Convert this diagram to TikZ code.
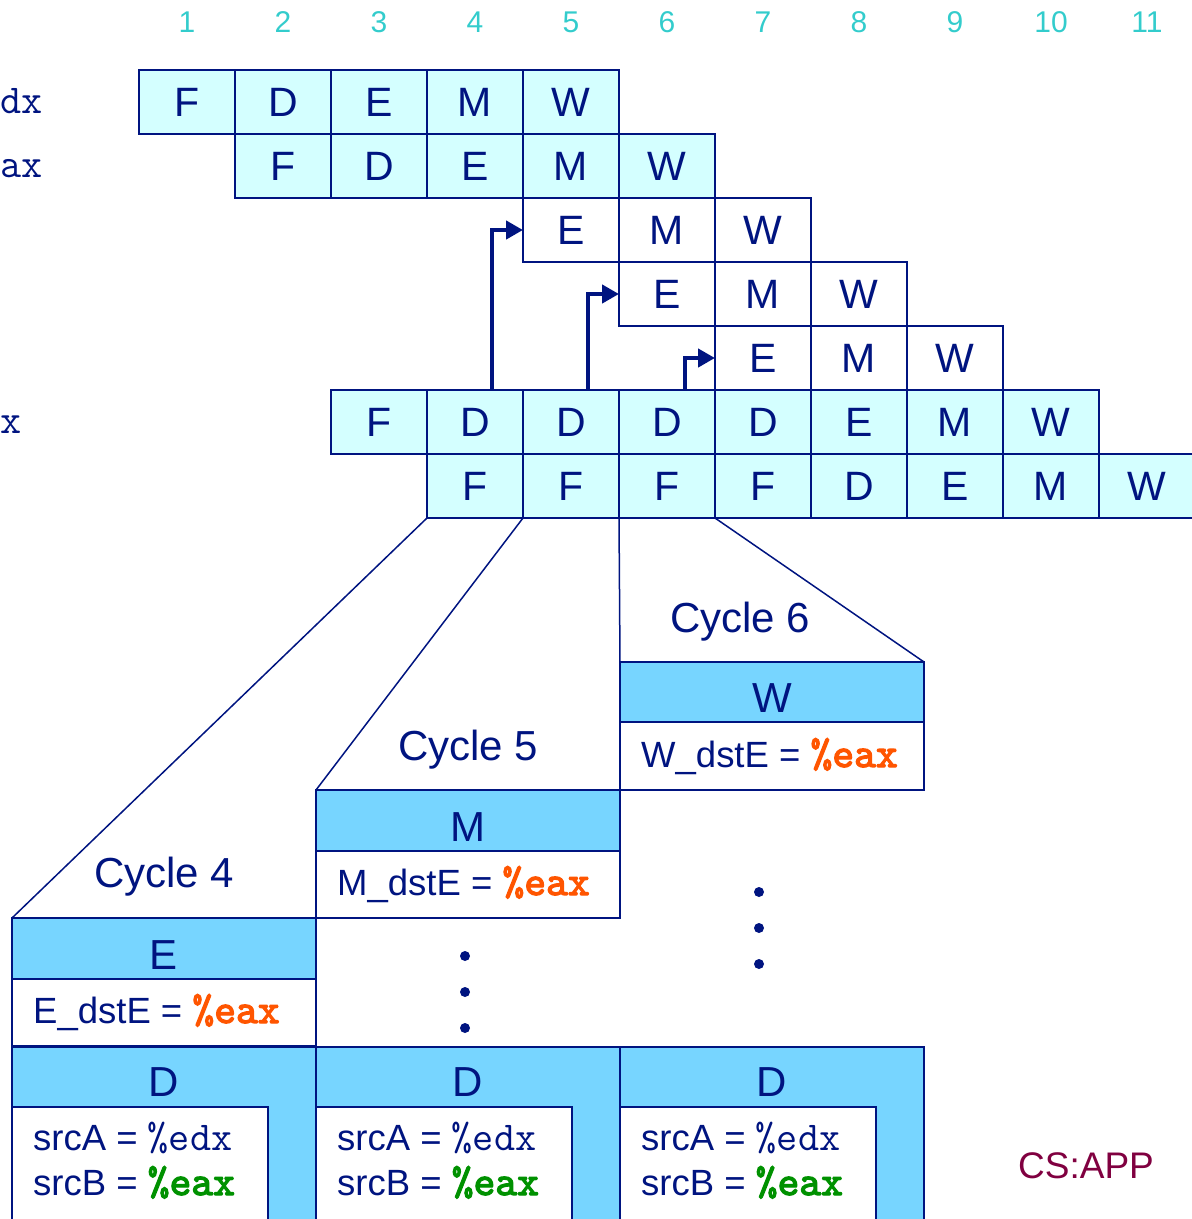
\documentclass[tikz,border=0pt]{standalone}
\usepackage{fontspec}
\setmainfont{Liberation Sans}
\newcommand\monof{\ttfamily}
\newfontfamily\monobold[FakeBold=3]{lmmono10-regular.otf}
\usetikzlibrary{arrows.meta}
\definecolor{navy}{RGB}{0,20,128}
\definecolor{cellfill}{RGB}{212,255,255}
\definecolor{hdr}{RGB}{119,213,255}
\definecolor{orng}{RGB}{255,85,0}
\definecolor{grn}{RGB}{0,145,0}
\definecolor{turq}{RGB}{51,204,204}
\definecolor{maroon}{RGB}{128,0,64}
\newcommand\regtt[1]{{\monof\fontsize{41}{41}\selectfont\color{navy}#1}}
\newcommand\boldtt[2]{{\monobold\fontsize{41.5}{41.5}\selectfont\color{#1}#2}}
\begin{document}
\begin{tikzpicture}[x=1pt,y=-1pt,
  cellbase/.style={draw=navy, line width=2.8pt, minimum width=96pt, minimum height=64pt,
    inner sep=0pt, outer sep=0pt, text=navy, font=\fontsize{41}{41}\selectfont},
  cellc/.style={cellbase, fill=cellfill},
  cellw/.style={cellbase, fill=white},
  colnum/.style={text=turq, inner sep=0pt, font=\fontsize{30}{30}\selectfont},
  rowlab/.style={text=navy, inner sep=0pt, anchor=base west, font=\monof\fontsize{41}{41}\selectfont},
  fwd/.style={draw=navy, line width=4.5pt, -{Triangle[length=17pt,width=18pt]}},
  fan/.style={draw=navy, line width=1.5pt},
  hdrbox/.style={draw=navy, line width=1.2pt, fill=hdr, minimum width=304pt, inner sep=0pt, outer sep=0pt},
  whbox/.style={draw=navy, line width=2.4pt, fill=white, inner sep=0pt, outer sep=0pt},
  hdrtxt/.style={text=navy, inner sep=0pt, anchor=base, font=\fontsize{42}{42}\selectfont},
  boxtxt/.style={text=navy, inner sep=0pt, anchor=base west, font=\fontsize{36.5}{36.5}\selectfont},
  cyc/.style={text=navy, inner sep=0pt, anchor=base west, font=\fontsize{42}{42}\selectfont},
  dot/.style={fill=navy}
]
\useasboundingbox (0,0) rectangle (1192,1219);

% column numbers
\foreach \i in {1,...,11} \node[colnum] (n\i) at ({91+96*\i},22) {\i};

% row labels
\node[rowlab] (labdx) at (0,113) {dx};
\node[rowlab] (labax) at (0,177) {ax};
\node[rowlab] (labx) at (0,433) {x};

% pipeline rows
\foreach \t [count=\i from 1] in {F,D,E,M,W} \node[cellc] (r1c\i) at ({91+96*\i},102) {\t};
\foreach \t [count=\i from 2] in {F,D,E,M,W} \node[cellc] (r2c\i) at ({91+96*\i},166) {\t};
\foreach \t [count=\i from 5] in {E,M,W} \node[cellw] (r3c\i) at ({91+96*\i},230) {\t};
\foreach \t [count=\i from 6] in {E,M,W} \node[cellw] (r4c\i) at ({91+96*\i},294) {\t};
\foreach \t [count=\i from 7] in {E,M,W} \node[cellw] (r5c\i) at ({91+96*\i},358) {\t};
\foreach \t [count=\i from 3] in {F,D,D,D,D,E,M,W} \node[cellc] (r6c\i) at ({91+96*\i},422) {\t};
\foreach \t [count=\i from 4] in {F,F,F,F,D,E,M,W} \node[cellc] (r7c\i) at ({91+96*\i},486) {\t};

% forwarding arrows
\draw[fwd] ([xshift=17pt]r6c4.north) |- (r3c5.west);
\draw[fwd] ([xshift=17pt]r6c5.north) |- (r4c6.west);
\draw[fwd] ([xshift=18pt]r6c6.north) |- (r5c7.west);

% D stage boxes
\node[hdrbox, minimum height=200pt] (d1) at (164,1147) {};
\node[hdrbox, minimum height=200pt] (d2) at (468,1147) {};
\node[hdrbox, minimum height=200pt] (d3) at (772,1147) {};
\node[whbox, minimum width=256pt, minimum height=140pt] (in1) at (140,1177) {};
\node[whbox, minimum width=256pt, minimum height=140pt] (in2) at (444,1177) {};
\node[whbox, minimum width=256pt, minimum height=140pt] (in3) at (748,1177) {};
\node[hdrtxt] (dl1) at (164,1096) {D};
\node[hdrtxt] (dl2) at (468,1096) {D};
\node[hdrtxt] (dl3) at (772,1096) {D};
\foreach \k/\x in {1/33,2/337,3/641} {
  \node[boxtxt] (sa\k) at (\x,1150) {srcA = \regtt{\%edx}};
  \node[boxtxt] (sb\k) at (\x,1195) {srcB = \boldtt{grn}{\%eax}};
}

% E box (cycle 4)
\node[hdrbox, minimum height=61pt] (hE) at (164,948.5) {};
\node[whbox, minimum width=304pt, minimum height=67pt] (wE) at (164,1012.5) {};
\node[hdrtxt] (lE) at (164,969) {E};
\node[boxtxt] (tE) at (33,1023) {E\_dstE = \boldtt{orng}{\%eax}};

% M box (cycle 5)
\node[hdrbox, minimum height=61pt] (hM) at (468,820.5) {};
\node[whbox, minimum width=304pt, minimum height=67pt] (wM) at (468,884.5) {};
\node[hdrtxt] (lM) at (468,841) {M};
\node[boxtxt] (tM) at (337,895) {M\_dstE = \boldtt{orng}{\%eax}};

% W box (cycle 6)
\node[hdrbox, minimum height=60pt] (hW) at (772,692) {};
\node[whbox, minimum width=304pt, minimum height=68pt] (wW) at (772,756) {};
\node[hdrtxt] (lW) at (772,712) {W};
\node[boxtxt] (tW) at (641,767) {W\_dstE = \boldtt{orng}{\%eax}};

% fan connectors
\draw[fan] (r7c4.south west) -- (hE.north west);
\draw[fan] (r7c5.south west) -- (hM.north west);
\draw[fan] (r7c6.south west) -- (hW.north west);
\draw[fan] (r7c7.south west) -- (hW.north east);

% cycle labels
\node[cyc] (c4) at (94,887) {Cycle 4};
\node[cyc] (c5) at (398,760) {Cycle 5};
\node[cyc] (c6) at (670,632) {Cycle 6};

% dots
\foreach \y in {956,992,1028} \fill[dot] (465,\y) circle (5pt);
\foreach \y in {892,928,964} \fill[dot] (759,\y) circle (5pt);

% credit
\node[text=maroon, inner sep=0pt, anchor=base west, font=\fontsize{37}{37}\selectfont] (csapp) at (1018,1178) {CS:APP};
\end{tikzpicture}
\end{document}
